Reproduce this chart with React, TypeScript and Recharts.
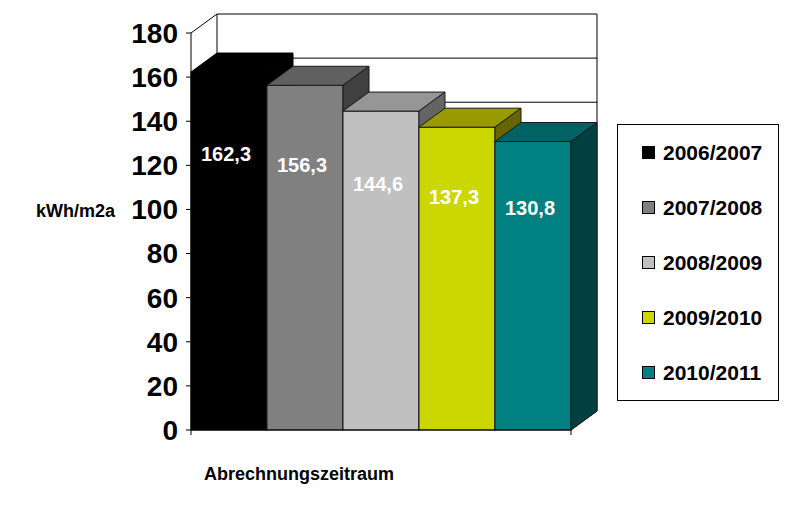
import React from 'react'
import { BarChart, Bar, XAxis, YAxis, CartesianGrid, Legend, LabelList } from 'recharts'

const periods = ['2006/2007', '2007/2008', '2008/2009', '2009/2010', '2010/2011']
const consumption = [162.3, 156.3, 144.6, 137.3, 130.8]
const categories = ['Abrechnungszeitraum']
const yTicks = [0, 20, 40, 60, 80, 100, 120, 140, 160, 180]

const seriesKeys = periods.map((_, i) => `s${i}`)

const data = categories.map(category => {
  const row: Record<string, string | number> = { category }
  seriesKeys.forEach((k, i) => {
    row[k] = consumption[i]
  })
  return row
})

// front / top / side shading for each box
const faces = [
  { front: '#000000', top: '#000000', side: '#000000', edge: '#000000' },
  { front: '#808080', top: '#606060', side: '#404040', edge: '#1a1a1a' },
  { front: '#c0c0c0', top: '#969696', side: '#646464', edge: '#1a1a1a' },
  { front: '#ccd600', top: '#999900', side: '#666600', edge: '#1a1a1a' },
  { front: '#008080', top: '#006262', side: '#004040', edge: '#1a1a1a' },
]

const DX = 26
const DY = -19
const FONT = '"Liberation Sans", Arial, Helvetica, sans-serif'

const makeBox = (i: number) => (props: any) => {
  const { x, y, width: w, height: h } = props
  const f = faces[i]
  return (
    <g stroke={f.edge} strokeWidth={1}>
      <rect x={x} y={y} width={w} height={h} fill={f.front} />
      <polygon
        points={`${x},${y} ${x + w},${y} ${x + w + DX},${y + DY} ${x + DX},${y + DY}`}
        fill={f.top}
      />
      <polygon
        points={`${x + w},${y} ${x + w + DX},${y + DY} ${x + w + DX},${y + h + DY} ${x + w},${y + h}`}
        fill={f.side}
      />
    </g>
  )
}

const fmt = (v: number) => v.toFixed(1).replace('.', ',')

const renderValue = (props: any) => {
  const vb = props.viewBox ?? props
  const { x, y, width, height } = vb
  return (
    <text
      x={x + width / 2 - 3}
      y={y + height * 0.23}
      textAnchor="middle"
      dominantBaseline="central"
      fill="#ffffff"
      fontSize={20}
      fontWeight="bold"
      fontFamily={FONT}
    >
      {fmt(Number(props.value))}
    </text>
  )
}

// back wall gridlines plus the side wall edge at each tick
const wallLine = (p: any) => {
  const { x1, y1, x2, index } = p
  return (
    <g key={`h-${index}`} stroke="#000" strokeWidth={1}>
      <line x1={x1 + DX} y1={y1 + DY} x2={x2 + DX} y2={y1 + DY} />
      <line x1={x1} y1={y1} x2={x1 + DX} y2={y1 + DY} />
    </g>
  )
}

// wall verticals, floor edge and the small end ticks of the category axis
const wallEdge = (p: any) => {
  const { x1, y1, y2, index } = p
  return (
    <g key={`v-${index}`} stroke="#000" strokeWidth={1}>
      <line x1={x1 + DX} y1={y1 + DY} x2={x1 + DX} y2={y2 + DY} />
      {index === 1 && <line x1={x1} y1={y2} x2={x1 + DX} y2={y2 + DY} />}
      <line x1={x1} y1={y2} x2={x1} y2={y2 + 5} />
    </g>
  )
}

const LegendBox = () => (
  <div
    style={{
      boxSizing: 'border-box',
      width: 162,
      height: 277,
      border: '1px solid #000',
      background: '#fff',
      display: 'flex',
      flexDirection: 'column',
      justifyContent: 'space-around',
      paddingLeft: 24,
      fontFamily: FONT,
      fontWeight: 'bold',
      fontSize: 21,
      color: '#000',
    }}
  >
    {periods.map((p, i) => (
      <div key={p} style={{ display: 'flex', alignItems: 'center' }}>
        <span
          style={{
            display: 'inline-block',
            boxSizing: 'border-box',
            width: 13,
            height: 13,
            background: faces[i].front,
            border: '1px solid #000',
            marginRight: 8,
          }}
        />
        <span>{p}</span>
      </div>
    ))}
  </div>
)

export default function App() {
  return (
    <div style={{ position: 'absolute', left: 0, top: 0, background: '#fff' }}>
      <BarChart
        width={785}
        height={517}
        data={data}
        margin={{ top: 33, right: 214, bottom: 57, left: 0 }}
        barCategoryGap={0}
        barGap={0}
      >
        <CartesianGrid
          horizontal={wallLine}
          vertical={wallEdge}
          verticalCoordinatesGenerator={({ offset }: any) => [offset.left, offset.left + offset.width]}
        />
        <XAxis
          dataKey="category"
          tick={false}
          tickLine={false}
          height={30}
          axisLine={{ stroke: '#000' }}
          label={{
            value: 'Abrechnungszeitraum',
            position: 'bottom',
            offset: 7,
            dx: -82,
            style: { fontFamily: FONT, fontWeight: 'bold', fontSize: 18, fill: '#000' },
          }}
        />
        <YAxis
          width={191}
          domain={[0, 180]}
          ticks={yTicks}
          interval={0}
          tickSize={5}
          tickMargin={8}
          axisLine={{ stroke: '#000' }}
          tickLine={{ stroke: '#000' }}
          tick={{ fontFamily: FONT, fontWeight: 'bold', fontSize: 28, fill: '#000' }}
          label={{
            value: 'kWh/m2a',
            position: 'insideLeft',
            offset: 36,
            dy: -21,
            style: { fontFamily: FONT, fontWeight: 'bold', fontSize: 18, fill: '#000' },
          }}
        />
        <Legend
          layout="horizontal"
          align="center"
          verticalAlign="middle"
          width={162}
          height={277}
          wrapperStyle={{ left: 617, top: 124, width: 162, height: 277 }}
          content={() => <LegendBox />}
        />
        {seriesKeys.map((k, i) => (
          <Bar
            key={k}
            dataKey={k}
            name={periods[i]}
            fill={faces[i].front}
            shape={makeBox(i)}
            isAnimationActive={false}
          >
            <LabelList dataKey={k} content={renderValue} />
          </Bar>
        ))}
      </BarChart>
    </div>
  )
}
